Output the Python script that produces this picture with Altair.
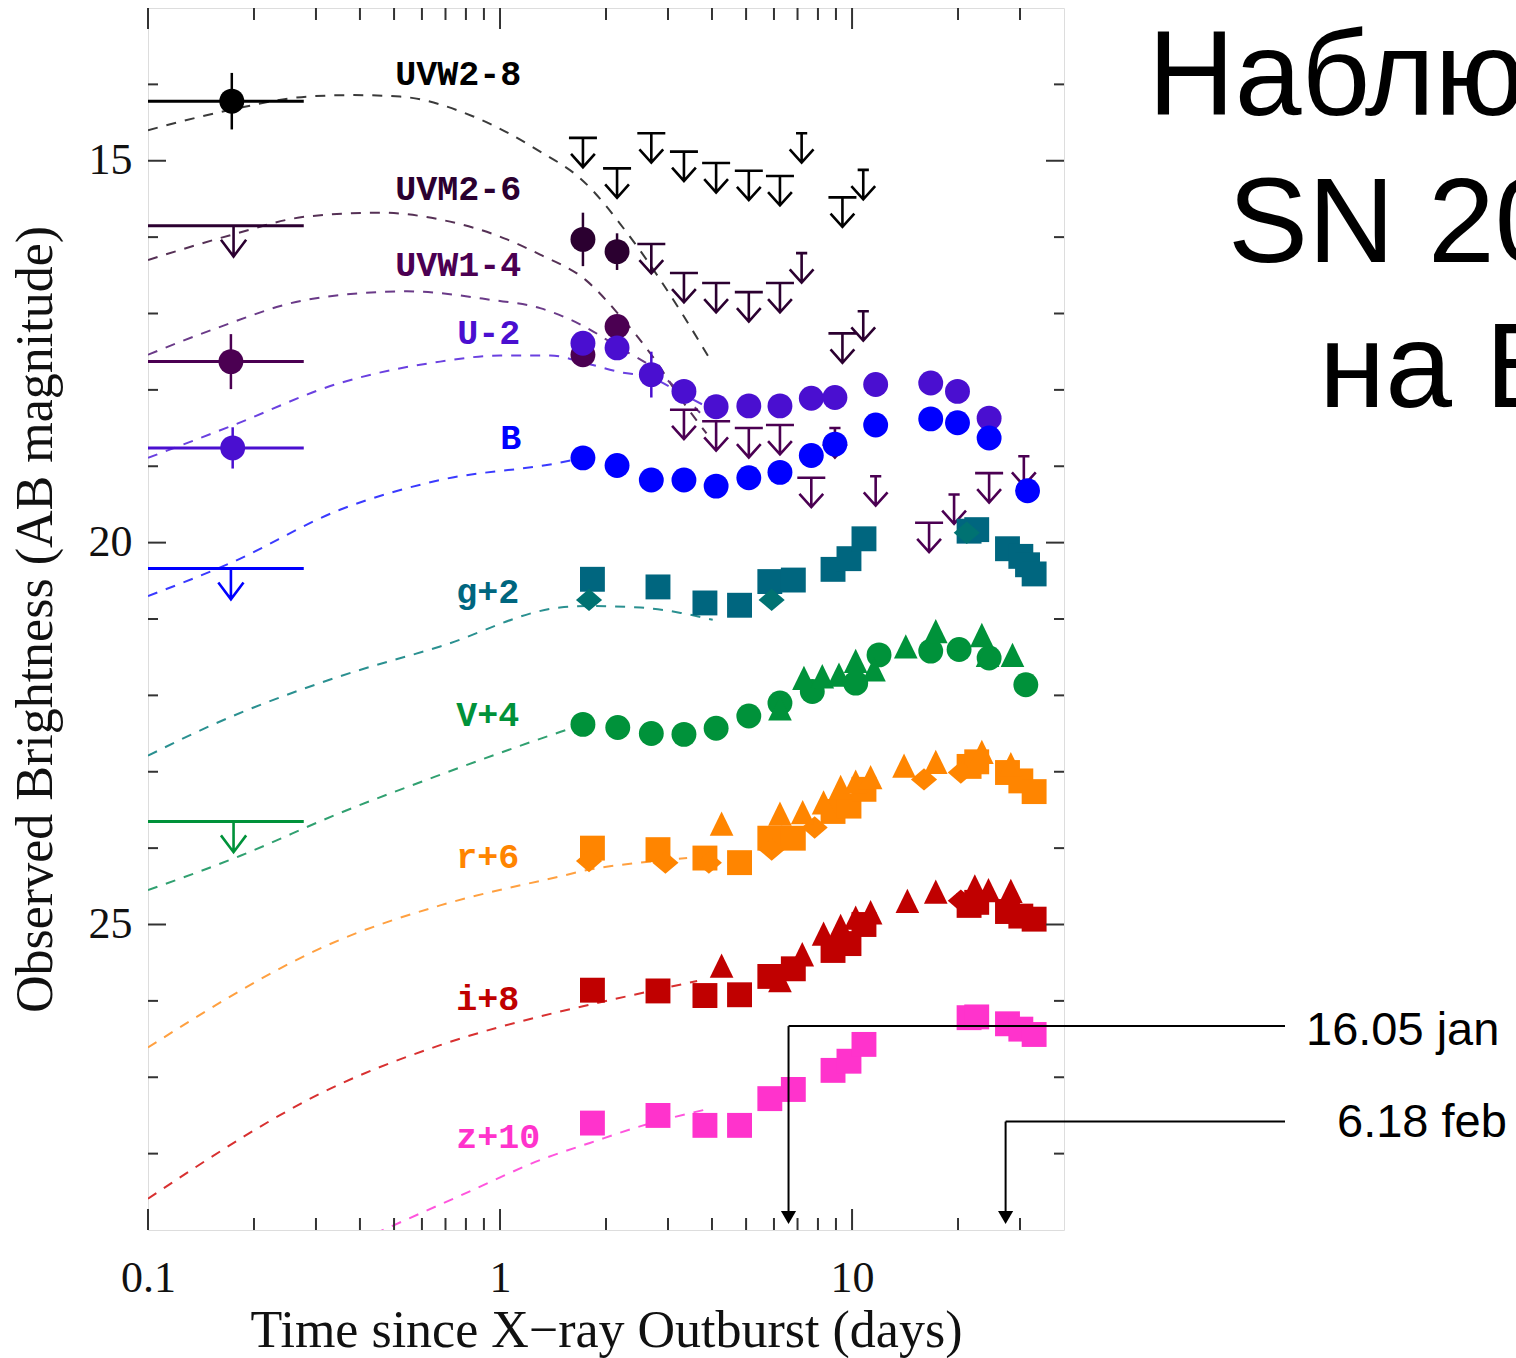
import altair as alt
import pandas as pd

PLOT_W, PLOT_H = 916, 1222

# ---------------- data ----------------
# detections (t in days, AB magnitude incl. offset)
UVW2_T = [0.173]
UVW2_M = [14.22]
UVM2_T = [1.72, 2.15]
UVM2_M = [16.03, 16.19]
UVW1_T = [0.172, 1.72, 2.15]
UVW1_M = [17.63, 17.54, 17.17]
U_T = [0.174, 1.72, 2.15, 2.69, 3.33, 4.11, 5.09, 6.24, 7.66, 8.94, 11.67, 16.73, 19.93, 24.51]
U_M = [18.76, 17.39, 17.45, 17.80, 18.02, 18.22, 18.21, 18.21, 18.11, 18.10, 17.93, 17.91, 18.02, 18.37]
B_T = [1.72, 2.15, 2.69, 3.33, 4.11, 5.09, 6.24, 7.66, 8.94, 11.67, 16.73, 19.93, 24.51, 31.51]
B_M = [18.89, 18.99, 19.18, 19.18, 19.26, 19.15, 19.08, 18.86, 18.71, 18.46, 18.38, 18.43, 18.63, 19.32]
G_SQ_T = [1.83, 2.81, 3.82, 4.79, 5.84, 6.81, 8.83, 9.80, 10.81, 21.5, 22.6, 27.64, 30.16, 31.51, 32.90]
G_SQ_M = [20.48, 20.58, 20.79, 20.82, 20.51, 20.49, 20.35, 20.21, 19.95, 19.85, 19.83, 20.08, 20.18, 20.29, 20.41]
G_DI_T = [1.79, 5.91, 21.18]
G_DI_M = [20.75, 20.75, 19.87]
V_CI_T = [1.72, 2.16, 2.69, 3.33, 4.11, 5.09, 6.24, 7.71, 10.24, 11.93, 16.73, 20.14, 24.51, 31.16]
V_CI_M = [22.38, 22.42, 22.50, 22.51, 22.43, 22.27, 22.10, 21.95, 21.84, 21.47, 21.42, 21.40, 21.51, 21.86]
V_TR_T = [6.24, 7.30, 8.23, 9.18, 10.24, 11.54, 14.21, 17.29, 23.37, 24.26, 28.56]
V_TR_M = [22.19, 21.79, 21.77, 21.75, 21.57, 21.68, 21.38, 21.18, 21.23, 21.49, 21.49]
R_SQ_T = [1.83, 2.81, 3.82, 4.79, 5.84, 6.81, 8.83, 9.80, 10.81, 21.5, 22.6, 27.64, 30.16, 32.90]
R_SQ_M = [24.00, 24.02, 24.13, 24.19, 23.87, 23.87, 23.52, 23.45, 23.23, 22.93, 22.87, 23.01, 23.12, 23.26]
R_DI_T = [1.79, 2.95, 3.92, 5.91, 7.83, 16.01, 20.37]
R_DI_M = [24.17, 24.19, 24.19, 24.02, 23.73, 23.10, 23.01]
R_TR_T = [4.26, 6.24, 7.24, 8.30, 9.28, 10.24, 11.29, 14.05, 17.29, 23.37, 28.25]
R_TR_M = [23.70, 23.57, 23.55, 23.42, 23.22, 23.15, 23.09, 22.94, 22.89, 22.76, 22.92]
I_SQ_T = [1.83, 2.81, 3.82, 4.79, 5.84, 6.81, 8.83, 9.80, 10.81, 21.5, 22.6, 27.64, 30.16, 32.90]
I_SQ_M = [25.86, 25.87, 25.93, 25.92, 25.68, 25.58, 25.34, 25.25, 25.00, 24.75, 24.71, 24.83, 24.89, 24.93]
I_DI_T = [20.37]
I_DI_M = [24.69]
I_TR_T = [4.26, 6.24, 7.22, 8.30, 9.28, 10.24, 11.29, 14.36, 17.29, 22.32, 24.41, 28.25]
I_TR_M = [25.56, 25.75, 25.41, 25.14, 25.04, 24.93, 24.86, 24.71, 24.59, 24.52, 24.57, 24.58]
Z_SQ_T = [1.83, 2.81, 3.82, 4.79, 5.84, 6.81, 8.83, 9.80, 10.81, 21.5, 22.6, 27.64, 30.16, 32.90]
Z_SQ_M = [27.60, 27.50, 27.63, 27.63, 27.28, 27.16, 26.91, 26.79, 26.57, 26.22, 26.21, 26.30, 26.37, 26.44]

# upper limits (wide bar / narrow bar)
UVW2_LIM_T = [1.72, 2.15, 2.69, 3.33, 4.11, 5.09, 6.24, 9.39]
UVW2_LIM_M = [14.70, 15.10, 14.64, 14.88, 15.03, 15.13, 15.20, 15.48]
UVW2_LIMN_T = [7.19, 10.76]
UVW2_LIMN_M = [14.64, 15.12]
UVM2_LIM_T = [2.69, 3.33, 4.11, 5.09, 6.24, 9.39]
UVM2_LIM_M = [16.09, 16.47, 16.60, 16.72, 16.60, 17.26]
UVM2_LIMN_T = [7.19, 10.76]
UVM2_LIMN_M = [16.21, 16.97]
UVW1_LIM_T = [3.33, 4.11, 5.09, 6.24, 7.66, 16.55, 24.51]
UVW1_LIM_M = [18.26, 18.41, 18.50, 18.46, 19.15, 19.74, 19.09]
UVW1_LIMN_T = [8.94, 11.67, 19.49, 30.76]
UVW1_LIMN_M = [18.50, 19.13, 19.37, 18.87]

# first (early) exposure: time span and limits
EARLY_LO = 0.1
EARLY_HI = 0.277
EARLY_BAR_BAND = ["UVW2", "UVM2", "UVW1", "U", "B", "V"]
EARLY_BAR_M = [14.22, 15.85, 17.63, 18.76, 20.34, 23.65]
EARLY_LIM_BAND = ["UVM2", "B", "V"]
EARLY_LIM_T = [0.175, 0.172, 0.175]
EARLY_LIM_M = [15.85, 20.34, 23.65]

# vertical error bars
ERR_BAND = ["UVW2", "UVW1", "U", "UVM2", "UVM2", "U"]
ERR_T = [0.173, 0.172, 0.174, 1.72, 2.15, 2.69]
ERR_M = [14.22, 17.63, 18.76, 16.03, 16.19, 17.80]
ERR_E = [0.37, 0.36, 0.27, 0.35, 0.24, 0.30]

# model curves (dashed)
UVW2C_T = [0.1, 0.173, 0.283, 0.384, 0.52, 0.84, 1.30, 1.69, 2.37, 3.33, 4.01]
UVW2C_M = [14.60, 14.33, 14.16, 14.14, 14.16, 14.42, 14.88, 15.23, 16.03, 17.04, 17.65]
UVM2C_T = [0.1, 0.173, 0.283, 0.457, 0.676, 1.047, 1.30, 1.75, 2.2, 2.7, 3.3, 3.86]
UVM2C_M = [16.30, 15.97, 15.73, 15.68, 15.77, 16.03, 16.23, 16.56, 17.04, 17.55, 18.15, 18.57]
UVW1C_T = [0.1, 0.157, 0.283, 0.544, 0.938, 1.30, 1.80, 2.15, 2.68, 3.7]
UVW1C_M = [17.54, 17.19, 16.82, 16.71, 16.82, 16.93, 17.21, 17.43, 17.69, 18.30]
UC_T = [0.1, 0.171, 0.351, 0.676, 1.0, 1.39, 1.72, 2.2, 2.69, 3.26, 3.86]
UC_M = [18.89, 18.48, 17.91, 17.63, 17.55, 17.55, 17.64, 17.77, 17.84, 18.04, 18.22]
BC_T = [0.1, 0.171, 0.351, 0.676, 1.45, 1.72]
BC_M = [20.70, 20.27, 19.57, 19.18, 18.96, 18.89]
GC_T = [0.1, 0.15, 0.351, 0.676, 1.48, 1.80, 2.51, 3.26, 4.02]
GC_M = [22.79, 22.40, 21.75, 21.36, 20.85, 20.83, 20.85, 20.92, 21.01]
VC_T = [0.1, 0.183, 0.351, 0.676, 1.48, 1.72]
VC_M = [24.55, 24.10, 23.54, 23.04, 22.48, 22.38]
RC_T = [0.1, 0.351, 0.676, 1.48, 1.80, 2.51, 3.40]
RC_M = [26.61, 25.20, 24.75, 24.37, 24.28, 24.19, 24.13]
IC_T = [0.1, 0.351, 0.676, 1.48, 1.72, 2.40, 3.63]
IC_M = [28.59, 27.09, 26.58, 26.14, 26.07, 25.92, 25.74]
ZC_T = [0.44, 0.771, 1.36, 1.8, 2.51, 3.86]
ZC_M = [29.05, 28.55, 28.05, 27.86, 27.64, 27.42]

# band labels
LABEL_TEXT = ["UVW2-8", "UVM2-6", "UVW1-4", "U-2", "B", "g+2", "V+4", "r+6", "i+8", "z+10"]
LABEL_KEY = ["UVW2", "UVM2", "UVW1", "U", "B", "g", "V", "r", "i", "z"]
LABEL_T = [0.504, 0.504, 0.504, 0.756, 1.002, 0.751, 0.751, 0.751, 0.751, 0.751]
LABEL_M = [13.87, 15.37, 16.37, 17.25, 18.63, 20.65, 22.26, 24.12, 25.97, 27.78]

# date annotations
ANN_TEXT = ["16.05 jan", "6.18 feb"]
ANN_T = [6.6, 27.3]
ANN_M = [26.33, 27.58]

# axis ticks
XT_MAJOR = [0.1, 1, 10]
XT_MINOR = [0.2, 0.3, 0.4, 0.5, 0.6, 0.7, 0.8, 0.9, 2, 3, 4, 5, 6, 7, 8, 9, 20, 30]
YT_MAJOR = [15, 20, 25]
YT_MINOR = [14, 16, 17, 18, 19, 21, 22, 23, 24, 26, 27, 28]

# ---------------- colours ----------------
COLOR_MAP = {
    "UVW2": "#000000", "UVM2": "#2b0030", "UVW1": "#4b0052", "U": "#4a0fd0",
    "B": "#0000ff", "g": "#00667f", "gd": "#007272", "V": "#00923a",
    "r": "#ff8500", "i": "#c00000", "z": "#ff33cc",
    "UVW2c": "#3a3a3a", "UVM2c": "#553055", "UVW1c": "#6a3a88", "Uc": "#6a40e0",
    "Bc": "#3a3aff", "gc": "#2a9090", "Vc": "#30a070", "rc": "#ffa040",
    "ic": "#d83030", "zc": "#ff55dd",
}
KEYS = list(COLOR_MAP.keys())
CSCALE = alt.Scale(domain=KEYS, range=[COLOR_MAP[k] for k in KEYS])


def C():
    return alt.Color("key:N", scale=CSCALE, legend=None)


SERIF = "Liberation Serif"
XSCALE = alt.Scale(type="log", domain=[0.1, 40], nice=False)
YSCALE = alt.Scale(domain=[13, 29], reverse=True, nice=False, zero=False)
XAXIS = alt.Axis(values=XT_MAJOR, format=".1~f", labelFlush=False, ticks=False, domain=False,
                 grid=False, labelFont=SERIF, labelFontSize=44, labelColor="#111",
                 labelPadding=26, title="Time since X\u2212ray Outburst (days)",
                 titleFont=SERIF, titleFontSize=52, titleFontWeight="normal",
                 titleColor="#111", titlePadding=5)
YAXIS = alt.Axis(values=YT_MAJOR, ticks=False, domain=False, grid=False,
                 labelFont=SERIF, labelFontSize=44, labelColor="#111", labelPadding=16,
                 title="Observed Brightness (AB magnitude)", titleFont=SERIF,
                 titleFontSize=52, titleFontWeight="normal", titleColor="#111",
                 titlePadding=26)


def X(field="t"):
    return alt.X(f"{field}:Q", scale=XSCALE, axis=XAXIS)


def Y(field="m"):
    return alt.Y(f"{field}:Q", scale=YSCALE, axis=YAXIS)


def rows(ts, ms, key, shape=None):
    return [dict(t=a, m=b, key=key, shape=shape) for a, b in zip(ts, ms)]


# ---------------- frames ----------------
pts = pd.DataFrame(
    rows(UVW2_T, UVW2_M, "UVW2", "circle") + rows(UVM2_T, UVM2_M, "UVM2", "circle")
    + rows(UVW1_T, UVW1_M, "UVW1", "circle") + rows(U_T, U_M, "U", "circle")
    + rows(B_T, B_M, "B", "circle") + rows(G_SQ_T, G_SQ_M, "g", "square")
    + rows(G_DI_T, G_DI_M, "gd", "diamond") + rows(V_CI_T, V_CI_M, "V", "circle")
    + rows(V_TR_T, V_TR_M, "V", "triangle") + rows(R_SQ_T, R_SQ_M, "r", "square")
    + rows(R_DI_T, R_DI_M, "r", "diamond") + rows(R_TR_T, R_TR_M, "r", "triangle")
    + rows(I_SQ_T, I_SQ_M, "i", "square") + rows(I_DI_T, I_DI_M, "i", "diamond")
    + rows(I_TR_T, I_TR_M, "i", "triangle") + rows(Z_SQ_T, Z_SQ_M, "z", "square")
)
pts["order"] = range(len(pts))

lim_wide = pd.DataFrame(rows(UVW2_LIM_T, UVW2_LIM_M, "UVW2") + rows(UVM2_LIM_T, UVM2_LIM_M, "UVM2")
                        + rows(UVW1_LIM_T, UVW1_LIM_M, "UVW1"))
lim_narrow = pd.DataFrame(rows(UVW2_LIMN_T, UVW2_LIMN_M, "UVW2") + rows(UVM2_LIMN_T, UVM2_LIMN_M, "UVM2")
                          + rows(UVW1_LIMN_T, UVW1_LIMN_M, "UVW1"))
lim_bare = pd.DataFrame(dict(t=EARLY_LIM_T, m=EARLY_LIM_M, key=EARLY_LIM_BAND))

tbars = pd.DataFrame(dict(t=[EARLY_LO] * len(EARLY_BAR_M), t2=[EARLY_HI] * len(EARLY_BAR_M),
                          m=EARLY_BAR_M, key=EARLY_BAR_BAND))
errs = pd.DataFrame(dict(t=ERR_T, m=[a - e for a, e in zip(ERR_M, ERR_E)],
                         m2=[a + e for a, e in zip(ERR_M, ERR_E)], key=ERR_BAND))

curves = pd.DataFrame(
    rows(UVW2C_T, UVW2C_M, "UVW2c") + rows(UVM2C_T, UVM2C_M, "UVM2c") + rows(UVW1C_T, UVW1C_M, "UVW1c")
    + rows(UC_T, UC_M, "Uc") + rows(BC_T, BC_M, "Bc") + rows(GC_T, GC_M, "gc")
    + rows(VC_T, VC_M, "Vc") + rows(RC_T, RC_M, "rc") + rows(IC_T, IC_M, "ic") + rows(ZC_T, ZC_M, "zc")
)

labels = pd.DataFrame(dict(t=LABEL_T, m=LABEL_M, key=LABEL_KEY, label=LABEL_TEXT))
ann = pd.DataFrame(dict(t=ANN_T, m=ANN_M, label=ANN_TEXT))

# ---------------- layers ----------------
SYM_R = 14
SYM_SIZE = (2 * SYM_R) ** 2
ARROW_WIDE = "M-1,0L1,0M0,0L0,2.1M-0.85,1.15L0,2.1L0.85,1.15"
ARROW_NARROW = "M-0.4,0L0.4,0M0,0L0,2.1M-0.85,1.15L0,2.1L0.85,1.15"
ARROW_BARE = "M0,0L0,2.2M-0.9,1.0L0,2.2L0.9,1.0"
TRIANGLE = "M0,-1.1L-0.95,0.85L0.95,0.85Z"
DIAMOND = "M0,-0.9L1.05,0L0,0.9L-1.05,0Z"

curve_layer = alt.Chart(curves).mark_line(strokeDash=[10, 9], strokeWidth=2, clip=True,
                                          interpolate="monotone").encode(
    x=X(), y=Y(), color=C(), detail="key:N")

tbar_layer = alt.Chart(tbars).mark_rule(strokeWidth=3, clip=True).encode(
    x=X(), x2="t2:Q", y=Y(), color=C())
err_layer = alt.Chart(errs).mark_rule(strokeWidth=2.5).encode(
    x=X(), y=Y(), y2="m2:Q", color=C())


def lim_layer(df, path):
    return alt.Chart(df).mark_point(shape=path, size=SYM_SIZE, filled=False, strokeWidth=2.6,
                                    opacity=1).encode(x=X(), y=Y(), color=C())


pts_layer = alt.Chart(pts).mark_point(filled=True, size=620, opacity=1, strokeWidth=0).encode(
    x=X(), y=Y(), color=C(),
    shape=alt.Shape("shape:N", scale=alt.Scale(domain=["circle", "square", "diamond", "triangle"],
                                               range=["circle", "square", DIAMOND, TRIANGLE]),
                    legend=None),
    order="order:Q")

label_layer = alt.Chart(labels).mark_text(font="Liberation Mono", fontWeight="bold", fontSize=35,
                                          align="left", baseline="middle").encode(
    x=X(), y=Y(), color=C(), text="label:N")

TICK_COLOR = "#333"


def xticks(vals, length):
    df = pd.DataFrame(dict(t=vals))
    bottom = alt.Chart(df).mark_rule(color=TICK_COLOR, strokeWidth=2).encode(
        x=X(), y=alt.value(PLOT_H), y2=alt.value(PLOT_H - length))
    top = alt.Chart(df).mark_rule(color=TICK_COLOR, strokeWidth=2).encode(
        x=X(), y=alt.value(0), y2=alt.value(length))
    return [bottom, top]


def yticks(vals, length):
    df = pd.DataFrame(dict(m=vals))
    left = alt.Chart(df).mark_rule(color=TICK_COLOR, strokeWidth=2).encode(
        y=Y(), x=alt.value(0), x2=alt.value(length))
    right = alt.Chart(df).mark_rule(color=TICK_COLOR, strokeWidth=2).encode(
        y=Y(), x=alt.value(PLOT_W - length), x2=alt.value(PLOT_W))
    return [left, right]


tick_layers = xticks(XT_MAJOR, 21) + xticks(XT_MINOR, 12) + yticks(YT_MAJOR, 18) + yticks(YT_MINOR, 10)

# date annotation arrows
ann_h = alt.Chart(ann).mark_rule(color="black", strokeWidth=2).encode(
    x=X(), x2=alt.value(1285 - 148), y=Y())
ann_v = alt.Chart(ann).mark_rule(color="black", strokeWidth=2).encode(
    x=X(), y=Y(), y2=alt.value(1204))
ann_head = alt.Chart(ann).mark_point(shape="triangle-down", size=230, filled=True, color="black",
                                     opacity=1).encode(x=X(), y=alt.value(1209.5))
ann_text_layers = []
for lbl, px, py in [(ANN_TEXT[0], 1158, 1037), (ANN_TEXT[1], 1189, 1129)]:
    ann_text_layers.append(
        alt.Chart(pd.DataFrame({"a": [0]})).mark_text(
            font="Liberation Sans", fontSize=47, align="left", baseline="alphabetic", color="black"
        ).encode(x=alt.value(px), y=alt.value(py), text=alt.value(lbl)))

# slide title (cut by the page edge, as on the slide)
TITLE_LINES = ["Наблюдения", "SN 2008D", "на БТА"]
title_layers = []
for lbl, px, py in zip(TITLE_LINES, [1000, 1080, 1171], [107, 254, 399]):
    title_layers.append(
        alt.Chart(pd.DataFrame({"a": [0]})).mark_text(
            font="Liberation Sans", fontSize=120, align="left", baseline="alphabetic", color="black"
        ).encode(x=alt.value(px), y=alt.value(py), text=alt.value(lbl)))

chart = alt.layer(
    curve_layer, tbar_layer, err_layer,
    lim_layer(lim_wide, ARROW_WIDE), lim_layer(lim_narrow, ARROW_NARROW), lim_layer(lim_bare, ARROW_BARE),
    pts_layer, label_layer, *tick_layers, ann_h, ann_v, ann_head, *ann_text_layers, *title_layers,
).properties(
    width=PLOT_W, height=PLOT_H,
    autosize=alt.AutoSizeParams(type="none"),
    padding={"left": 148, "top": 8, "right": 452, "bottom": 128},
).configure_view(stroke="#333", strokeWidth=2).configure(background="white")

chart.save("out.html", embed_options={"renderer": "svg", "actions": False})
